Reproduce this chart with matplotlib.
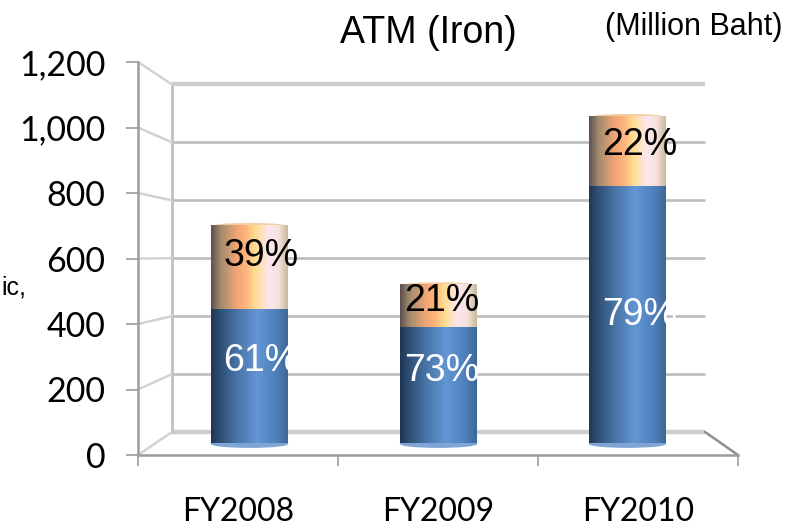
import numpy as np
import matplotlib
matplotlib.use('Agg')
import matplotlib.pyplot as plt
from matplotlib.colors import LinearSegmentedColormap
from matplotlib.patches import ConnectionPatch, Ellipse

W, H = 805, 528

years = ['FY2008', 'FY2009', 'FY2010']
lower = [435, 376, 834]
upper = [270, 137, 224]
lower_labels = ['61%', '73%', '79%']
upper_labels = ['39%', '21%', '22%']
y_ticks = [0, 200, 400, 600, 800, 1000, 1200]

blue_map = LinearSegmentedColormap.from_list('blue', [
    (0.0, '#1f3755'), (0.12, '#2f5076'), (0.35, '#4a76a9'), (0.6, '#6396d4'),
    (0.85, '#4f80bc'), (1.0, '#3d6896')])
orange_map = LinearSegmentedColormap.from_list('orange', [
    (0.0, '#5f504f'), (0.12, '#a08a6e'), (0.33, '#f0a574'), (0.45, '#ffb47c'),
    (0.58, '#ffdc90'), (0.75, '#fde6ee'), (0.88, '#f5e2dc'), (1.0, '#c8b89c')])


def axes_px(left, top, right, bottom):
    return fig.add_axes([left / W, 1 - bottom / H, (right - left) / W, (bottom - top) / H])


fig = plt.figure(figsize=(W / 100, H / 100), dpi=100, facecolor='white')

# back wall of the 3d box
ax_back = axes_px(172, 84.5, 705, 432)
ax_back.set_xlim(0, 3)
ax_back.set_ylim(0, 1200)
ax_back.axis('off')
ax_back.set_zorder(0)
for v in y_ticks:
    thick = v in (0, 1200)
    ax_back.plot([0, 3], [v, v], color='#cdcdcd' if thick else '#bdbdbd',
                 lw=3.2 if thick else 1.9, clip_on=False, solid_capstyle='butt')
ax_back.plot([0, 0], [0, 1200], color='#bdbdbd', lw=1.9, clip_on=False)

# front axis with the ticks and labels
ax_front = axes_px(138, 62, 738, 455)
ax_front.set_xlim(0, 3)
ax_front.set_ylim(0, 1200)
ax_front.patch.set_alpha(0)
ax_front.set_zorder(1)
for s in ['top', 'right']:
    ax_front.spines[s].set_visible(False)
for s in ['left', 'bottom']:
    ax_front.spines[s].set_color('#9c9c9c')
    ax_front.spines[s].set_linewidth(1.8)
ax_front.set_yticks(y_ticks)
ax_front.set_yticklabels(['{:,}'.format(v) for v in y_ticks], family='Lato', fontsize=24.5)
ax_front.tick_params(axis='y', length=8.6, width=1.2, color='#9c9c9c', pad=15)
ax_front.set_xticks([0, 1, 2, 3])
ax_front.set_xticklabels([])
ax_front.tick_params(axis='x', which='major', length=8, width=1.2, color='#9c9c9c')
ax_front.set_xticks([0.5, 1.5, 2.5], minor=True)
ax_front.set_xticklabels(years, minor=True, family='Lato', fontsize=23)
ax_front.tick_params(axis='x', which='minor', length=0, pad=30)

# depth lines between front and back
for v in y_ticks:
    fig.add_artist(ConnectionPatch((0, v), (0, v), 'data', 'data', axesA=ax_front, axesB=ax_back,
                                   color='#d2d2d2', lw=1.8, zorder=0.5))
fig.add_artist(ConnectionPatch((3, 0), (3, 0), 'data', 'data', axesA=ax_front, axesB=ax_back,
                               color='#8f8f8f', lw=1.8, zorder=0.5))

# cylinders, on a plane half way into the box
ax_bars = axes_px(155, 73, 722, 443.5)
ax_bars.set_zorder(2)
ax_bars.axis('off')
bar_w = 0.403
grad = np.linspace(0, 1, 128).reshape(1, -1)
# label spots picked by eye, the original labels sit off centre
label_x = [0.06, 0.015, 0.066]
lower_label_y = [268, 235, 417]
upper_label_y = [608, 462, 967]
for i in range(len(years)):
    x0, x1 = i - bar_w / 2, i + bar_w / 2
    top = lower[i] + upper[i]
    ax_bars.add_patch(Ellipse((i, 0), bar_w, 24, color='#7ea5d6', zorder=1, clip_on=False))
    ax_bars.add_patch(Ellipse((i, top), bar_w * 0.9, 14, color='#f4cda6', zorder=1, clip_on=False))
    ax_bars.imshow(grad, cmap=blue_map, extent=(x0, x1, 0, lower[i]), aspect='auto', zorder=2)
    ax_bars.imshow(grad, cmap=orange_map, extent=(x0, x1, lower[i], top), aspect='auto', zorder=2)
    ax_bars.text(i + label_x[i], lower_label_y[i], lower_labels[i], color='white',
                 ha='center', va='center', family='Liberation Sans', fontsize=27, zorder=3)
    ax_bars.text(i + label_x[i], upper_label_y[i], upper_labels[i], color='black',
                 ha='center', va='center', family='Liberation Sans', fontsize=27, zorder=3)
ax_bars.set_xlim(-0.5, 2.5)
ax_bars.set_ylim(0, 1200)

fig.text(428 / W, 1 - 33 / H, 'ATM (Iron)', family='Liberation Sans', fontsize=27,
         ha='center', va='center')
fig.text(782 / W, 1 - 27 / H, '(Million Baht)', family='Liberation Sans', fontsize=22,
         ha='right', va='center')
fig.text(26 / W, 1 - 288 / H, 'ic,', family='Liberation Sans', fontsize=18,
         ha='right', va='center')

fig.savefig('out.png', dpi=100)
